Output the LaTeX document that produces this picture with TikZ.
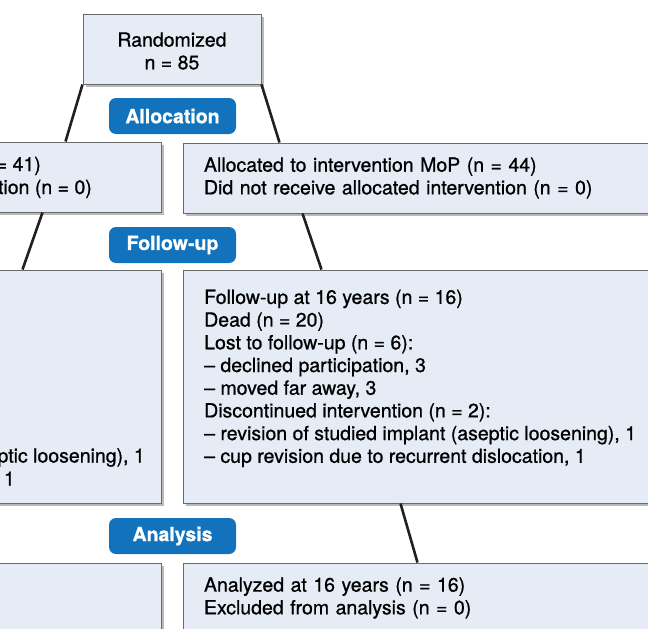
\documentclass[tikz,border=0pt]{standalone}
\usepackage{fontspec}
\setmainfont[FakeBold=0.8]{TeX Gyre Heros}
\usetikzlibrary{shadows}
\definecolor{boxfill}{HTML}{E6ECF6}
\definecolor{boxline}{HTML}{6A6A6A}
\definecolor{stageblue}{HTML}{1272BC}
\definecolor{linkdark}{HTML}{231F20}
\tikzset{x=1pt, y=-1pt,
    every node/.style={font=\fontsize{19.5}{22.7}\selectfont},
    flowbox/.style={draw=boxline, fill=boxfill, line width=1pt, inner sep=0pt,
        drop shadow={shadow xshift=3pt, shadow yshift=-3pt, opacity=.45, fill=black!60}},
    stage/.style={fill=stageblue, rounded corners=7pt, text=white,
        minimum width=127pt, minimum height=36pt, inner sep=0pt,
        font=\fontsize{19.5}{22.7}\selectfont\bfseries},
    flowtext/.style={align=left, inner sep=0pt},
    link/.style={draw=linkdark, line width=2.6pt},
    }
\begin{document}
\begin{tikzpicture}
\useasboundingbox (0,0) rectangle (648,629);
\clip (0,0) rectangle (648,629);
% boxes
\node[flowbox, minimum width=178pt, minimum height=70pt] (rand) at (172,49) {};
\node[flowbox, minimum width=478pt, minimum height=70pt] (allocL) at (-78,177) {};
\node[flowbox, minimum width=478pt, minimum height=70pt, text width=436pt, inner xsep=21pt, align=left] (allocR) at (422,178)
	{Allocated to intervention MoP (n = 44)\\Did not receive allocated intervention (n = 0)};
\node[flowbox, minimum width=478pt, minimum height=233pt] (followL) at (-78,386.5) {};
\node[flowbox, minimum width=478pt, minimum height=233pt] (followR) at (422,386.5) {};
\node[flowbox, minimum width=478pt, minimum height=70pt] (analysisL) at (-78,598) {};
\node[flowbox, minimum width=478pt, minimum height=70pt, text width=436pt, inner xsep=21pt, align=left] (analysisR) at (422,598)
	{Analyzed at 16 years (n = 16)\\Excluded from analysis (n = 0)};
% stages
\node[stage] (allocation) at (172.5,116) {Allocation};
\node[stage] (followup) at (172.5,245) {Follow-up};
\node[stage] (analysis) at (172.5,536) {Analysis};
% texts
\node[flowtext, align=center] (randtext) at (172,51) {Randomized\\n = 85};
\node[flowtext, anchor=base east] (allocLa) at (41,171) {= 41)};
\node[flowtext, anchor=base east] (allocLb) at (92,194) {tion (n = 0)};
\node[flowtext, anchor=north west] (followRtext) at (204,289.5) {Follow-up at 16 years (n = 16)\\
	Dead (n = 20)\\
	Lost to follow-up (n = 6):\\
	– declined participation, 3\\
	– moved far away, 3\\
	Discontinued intervention (n = 2):\\
	– revision of studied implant (aseptic loosening), 1\\
	– cup revision due to recurrent dislocation, 1};
\node[flowtext, anchor=base east] (followLa) at (145,462.5) {ptic loosening), 1};
\node[flowtext, anchor=base east] (followLb) at (15,485.5) {1};
% links
\draw[link] (rand.south west) -- ([xshift=-96pt]allocL.north east);
\draw[link] (rand.south east) -- ([xshift=97pt]allocR.north west);
\draw[link] ([xshift=-119pt]allocL.south east) -- ([xshift=-139pt]followL.north east);
\draw[link] ([xshift=120pt]allocR.south west) -- ([xshift=139pt]followR.north west);
\draw[link] ([xshift=218pt]followR.south west) -- ([xshift=235pt]analysisR.north west);
\end{tikzpicture}
\end{document}
